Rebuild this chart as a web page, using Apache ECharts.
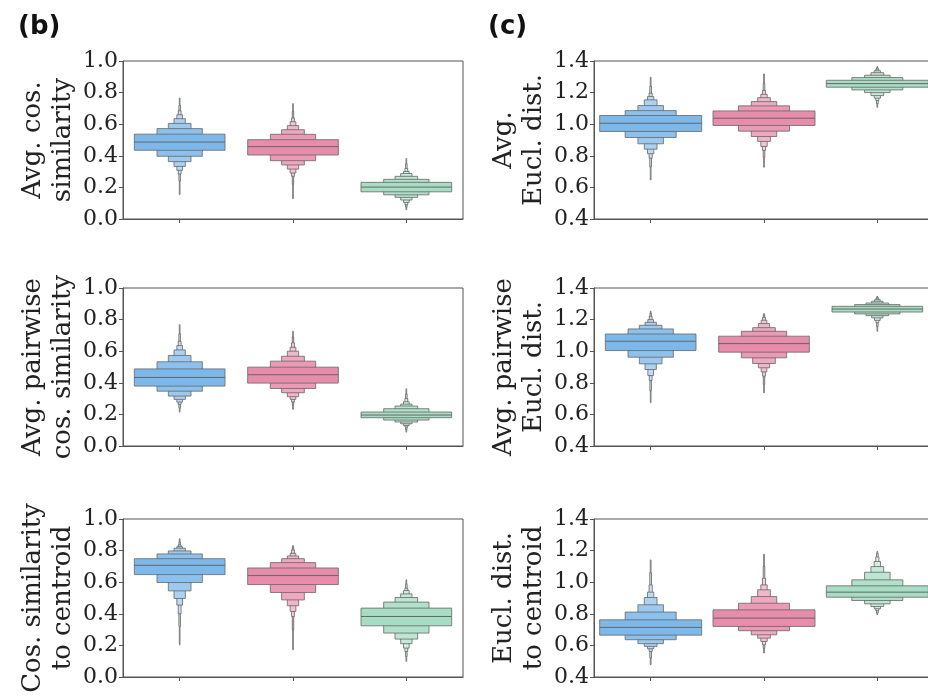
<!DOCTYPE html>
<html><head><meta charset="utf-8">
<script src="https://cdn.jsdelivr.net/npm/echarts@6/dist/echarts.min.js"></script>
<style>html,body{margin:0;padding:0;background:#fff}#c{width:928px;height:699px}</style>
</head><body><div id="c"></div>
<script>
// ---------- data ----------
const categories = ['Group 1', 'Group 2', 'Group 3'];
const leftTicks = [0.0, 0.2, 0.4, 0.6, 0.8, 1.0];
const rightTicks = [0.4, 0.6, 0.8, 1.0, 1.2, 1.4];

// each box: [median, [lo,hi] level1 (IQR), level2, ... level8 (extremes)]
const avgCosBlue  = [0.487, [0.435,0.537],[0.397,0.572],[0.363,0.605],[0.333,0.635],[0.308,0.660],[0.285,0.685],[0.240,0.720],[0.154,0.766]];
const avgCosPink  = [0.458, [0.405,0.502],[0.369,0.536],[0.342,0.565],[0.316,0.591],[0.291,0.616],[0.270,0.640],[0.220,0.680],[0.129,0.730]];
const avgCosGreen = [0.202, [0.172,0.232],[0.153,0.251],[0.137,0.270],[0.120,0.288],[0.105,0.301],[0.090,0.320],[0.075,0.350],[0.059,0.383]];

const pairCosBlue  = [0.434, [0.379,0.488],[0.347,0.533],[0.316,0.573],[0.295,0.608],[0.278,0.636],[0.263,0.663],[0.240,0.710],[0.215,0.768]];
const pairCosPink  = [0.451, [0.398,0.499],[0.364,0.537],[0.337,0.568],[0.312,0.600],[0.295,0.625],[0.278,0.653],[0.260,0.690],[0.232,0.726]];
const pairCosGreen = [0.196, [0.179,0.215],[0.164,0.236],[0.152,0.253],[0.141,0.265],[0.130,0.280],[0.120,0.300],[0.105,0.330],[0.088,0.362]];

const centCosBlue  = [0.707, [0.648,0.749],[0.598,0.779],[0.545,0.798],[0.497,0.815],[0.455,0.825],[0.400,0.836],[0.320,0.855],[0.204,0.875]];
const centCosPink  = [0.642, [0.585,0.690],[0.535,0.724],[0.488,0.749],[0.451,0.766],[0.415,0.783],[0.383,0.804],[0.300,0.820],[0.173,0.832]];
const centCosGreen = [0.383, [0.324,0.436],[0.278,0.474],[0.240,0.503],[0.211,0.526],[0.183,0.547],[0.162,0.562],[0.130,0.590],[0.099,0.615]];

const avgEucBlue  = [1.006, [0.954,1.055],[0.916,1.086],[0.876,1.118],[0.842,1.154],[0.813,1.175],[0.785,1.196],[0.730,1.240],[0.648,1.297]];
const avgEucPink  = [1.038, [0.992,1.084],[0.956,1.116],[0.922,1.143],[0.891,1.168],[0.859,1.189],[0.834,1.213],[0.790,1.260],[0.728,1.318]];
const avgEucGreen = [1.257, [1.234,1.278],[1.217,1.295],[1.200,1.310],[1.181,1.326],[1.165,1.338],[1.150,1.348],[1.130,1.356],[1.107,1.364]];

const pairEucBlue  = [1.063, [1.004,1.109],[0.962,1.141],[0.920,1.164],[0.884,1.183],[0.846,1.200],[0.815,1.221],[0.750,1.240],[0.674,1.253]];
const pairEucPink  = [1.048, [0.994,1.095],[0.958,1.126],[0.922,1.149],[0.895,1.175],[0.869,1.196],[0.842,1.215],[0.790,1.228],[0.737,1.238]];
const pairEucGreen = [1.267, [1.248,1.284],[1.236,1.295],[1.225,1.305],[1.211,1.316],[1.195,1.326],[1.180,1.335],[1.155,1.342],[1.126,1.347]];

const centEucBlue  = [0.714, [0.665,0.762],[0.636,0.811],[0.611,0.857],[0.594,0.903],[0.579,0.937],[0.562,0.983],[0.520,1.060],[0.478,1.141]];
const centEucPink  = [0.773, [0.720,0.825],[0.693,0.867],[0.667,0.909],[0.646,0.952],[0.625,0.983],[0.604,1.025],[0.580,1.100],[0.552,1.177]];
const centEucGreen = [0.937, [0.905,0.977],[0.884,1.015],[0.863,1.063],[0.846,1.099],[0.832,1.131],[0.820,1.160],[0.805,1.180],[0.794,1.194]];

const panelTitles = ['Avg. cos.\nsimilarity', 'Avg. pairwise\ncos. similarity', 'Cos. similarity\nto centroid',
                     'Avg.\nEucl. dist.', 'Avg. pairwise\nEucl. dist.', 'Eucl. dist.\nto centroid'];
const panelLetters = ['(b)', '(c)'];

// ---------- styling / layout ----------
const baseColors = ['#7db8ea', '#e88cab', '#a6ddc3'];
const edgeColor = '#666666';
const axisColor = '#555555';
const serif = 'DejaVu Serif';

function mixWhite(hex, t) {
  const n = parseInt(hex.slice(1), 16);
  const r = (n >> 16) & 255, g = (n >> 8) & 255, b = n & 255;
  const f = v => Math.round(v + (255 - v) * t);
  return 'rgb(' + f(r) + ',' + f(g) + ',' + f(b) + ')';
}

function toRow(catIdx, box) {
  const row = [catIdx, box[0]];
  for (let i = 1; i < box.length; i++) { row.push(box[i][0], box[i][1]); }
  return row;
}

function makeRender(frac) {
  return function (params, api) {
    const c = api.value(0);
    const med = api.value(1);
    const nLev = 8;
    const band = api.size([1, 0])[0];
    const W = band * frac;
    const base = baseColors[params.dataIndex];
    const children = [];
    for (let i = nLev - 1; i >= 0; i--) {
      const lo = api.value(2 + 2 * i), hi = api.value(3 + 2 * i);
      const w = W / Math.pow(2, i);
      const pt = api.coord([c, hi]);
      const pb = api.coord([c, lo]);
      children.push({
        type: 'rect',
        shape: { x: pt[0] - w / 2, y: pt[1], width: w, height: pb[1] - pt[1] },
        style: { fill: mixWhite(base, 0.85 * i / (nLev - 1)), stroke: edgeColor, lineWidth: 0.8 }
      });
    }
    const pm = api.coord([c, med]);
    children.push({
      type: 'line',
      shape: { x1: pm[0] - W / 2, y1: pm[1], x2: pm[0] + W / 2, y2: pm[1] },
      style: { stroke: edgeColor, lineWidth: 1 }
    });
    return { type: 'group', children: children };
  };
}

const panels = [
  { boxes: [avgCosBlue, avgCosPink, avgCosGreen],   col: 0, row: 0, frac: 0.8 },
  { boxes: [pairCosBlue, pairCosPink, pairCosGreen], col: 0, row: 1, frac: 0.8 },
  { boxes: [centCosBlue, centCosPink, centCosGreen], col: 0, row: 2, frac: 0.8 },
  { boxes: [avgEucBlue, avgEucPink, avgEucGreen],   col: 1, row: 0, frac: 0.9 },
  { boxes: [pairEucBlue, pairEucPink, pairEucGreen], col: 1, row: 1, frac: 0.8 },
  { boxes: [centEucBlue, centEucPink, centEucGreen], col: 1, row: 2, frac: 0.9 }
];
const gridLefts = [123, 594];
const gridTops = [61, 288, 519];

const grid = [], xAxis = [], yAxis = [], series = [];
panels.forEach((p, k) => {
  const ticks = p.col === 0 ? leftTicks : rightTicks;
  grid.push({ left: gridLefts[p.col], top: gridTops[p.row], width: 340, height: 158,
              outerBoundsMode: 'none', containLabel: false,
              show: true, borderColor: axisColor, borderWidth: 1, backgroundColor: 'transparent' });
  xAxis.push({ type: 'category', gridIndex: k, data: categories, boundaryGap: true,
               axisLine: { show: true, lineStyle: { color: axisColor, width: 1 } },
               axisTick: { show: true, alignWithLabel: true, length: 4, lineStyle: { color: axisColor } },
               axisLabel: { show: false }, splitLine: { show: false } });
  yAxis.push({ type: 'value', gridIndex: k, min: ticks[0], max: ticks[ticks.length - 1], interval: 0.2,
               name: panelTitles[k], nameLocation: 'middle', nameRotate: 90, nameGap: 45,
               nameTextStyle: { fontFamily: serif, fontSize: 26, color: '#222', lineHeight: 30 },
               axisLine: { show: true, lineStyle: { color: axisColor, width: 1 } },
               axisTick: { show: true, length: 4, lineStyle: { color: axisColor } },
               axisLabel: { fontFamily: serif, fontSize: 22, color: '#222', margin: 5,
                            formatter: v => v.toFixed(1) },
               splitLine: { show: false } });
  series.push({ type: 'custom', xAxisIndex: k, yAxisIndex: k, renderItem: makeRender(p.frac),
                data: p.boxes.map((b, i) => toRow(i, b)), clip: false });
});

const chart = echarts.init(document.getElementById('c'), null, { renderer: 'canvas' });
chart.setOption({
  animation: false,
  backgroundColor: '#ffffff',
  title: [
    { text: panelLetters[0], left: 13, top: 9, textStyle: { fontFamily: 'DejaVu Sans', fontWeight: 'bold', fontSize: 26, color: '#111' } },
    { text: panelLetters[1], left: 483, top: 9, textStyle: { fontFamily: 'DejaVu Sans', fontWeight: 'bold', fontSize: 26, color: '#111' } }
  ],
  grid: grid, xAxis: xAxis, yAxis: yAxis, series: series
});
</script></body></html>
